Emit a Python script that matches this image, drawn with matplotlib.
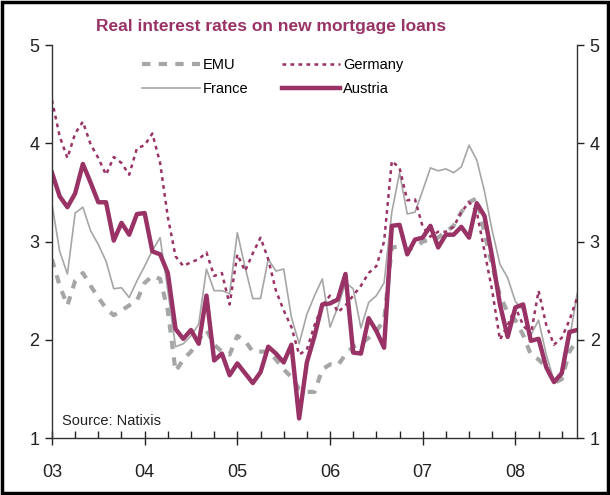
import numpy as np
import matplotlib
matplotlib.use("Agg")
import matplotlib.pyplot as plt
from matplotlib.patches import Rectangle
from matplotlib.ticker import MultipleLocator, FixedLocator

plt.rcParams['font.family'] = ['Liberation Sans', 'DejaVu Sans']

# monthly real mortgage rates, Jan 2003 - Sep 2008 (%)
years = ['03', '04', '05', '06', '07', '08']

austria = [3.70, 3.46, 3.35, 3.49, 3.79, 3.60, 3.40, 3.40, 3.01, 3.19,
           3.07, 3.28, 3.29, 2.90, 2.87, 2.68, 2.11, 2.01, 2.10, 1.96,
           2.45, 1.79, 1.86, 1.64, 1.76, 1.66, 1.56, 1.67, 1.93, 1.86,
           1.77, 1.95, 1.20, 1.77, 2.04, 2.36, 2.37, 2.41, 2.67, 1.87,
           1.86, 2.22, 2.09, 1.92, 3.16, 3.17, 2.87, 3.02, 3.04, 3.16,
           2.94, 3.07, 3.07, 3.15, 3.04, 3.39, 3.26, 2.84, 2.36, 2.03,
           2.33, 2.36, 1.99, 2.01, 1.72, 1.57, 1.66, 2.08, 2.10]

germany = [4.44, 4.07, 3.85, 4.10, 4.22, 3.99, 3.85, 3.68, 3.86, 3.80,
           3.68, 3.95, 3.98, 4.10, 3.80, 3.25, 2.85, 2.75, 2.79, 2.82,
           2.89, 2.65, 2.68, 2.36, 2.87, 2.70, 2.88, 3.04, 2.82, 2.50,
           2.30, 2.13, 1.85, 1.90, 2.15, 2.35, 2.45, 2.28, 2.35, 2.45,
           2.55, 2.68, 2.75, 3.00, 3.82, 3.75, 3.42, 3.43, 3.15, 3.05,
           3.10, 3.10, 3.15, 3.30, 3.40, 3.30, 2.90, 2.50, 2.00, 2.15,
           2.33, 2.15, 2.05, 2.50, 2.15, 1.95, 2.02, 2.20, 2.43]

france = [3.38, 2.90, 2.67, 3.29, 3.35, 3.11, 2.97, 2.80, 2.52, 2.53,
          2.43, 2.60, 2.75, 2.91, 3.04, 2.50, 1.93, 1.96, 2.04, 2.16,
          2.72, 2.50, 2.50, 2.47, 3.09, 2.74, 2.42, 2.42, 2.82, 2.70,
          2.72, 2.23, 1.96, 2.26, 2.45, 2.62, 2.13, 2.33, 2.58, 2.52,
          2.12, 2.38, 2.45, 2.58, 3.30, 3.70, 3.28, 3.30, 3.52, 3.75,
          3.72, 3.74, 3.70, 3.76, 3.98, 3.83, 3.51, 3.11, 2.77, 2.63,
          2.39, 2.30, 2.05, 2.20, 1.85, 1.58, 1.62, 2.00, 2.47]

emu = [2.82, 2.55, 2.35, 2.60, 2.68, 2.55, 2.43, 2.32, 2.25, 2.30,
       2.35, 2.40, 2.58, 2.65, 2.62, 2.30, 1.68, 1.80, 1.88, 2.00,
       2.10, 1.95, 1.88, 1.85, 2.04, 1.99, 1.88, 1.88, 1.88, 1.80,
       1.70, 1.62, 1.50, 1.47, 1.47, 1.70, 1.75, 1.74, 1.85, 1.93,
       1.96, 2.02, 2.09, 2.20, 2.94, 2.95, 2.92, 2.94, 3.00, 3.02,
       3.04, 3.10, 3.16, 3.30, 3.40, 3.44, 3.09, 2.75, 2.45, 2.28,
       2.20, 2.05, 1.85, 1.80, 1.72, 1.56, 1.60, 1.88, 2.00]

maroon = '#993366'
grey = '#a6a6a6'
x = np.arange(len(austria))

fig = plt.figure(figsize=(6.1, 4.95), dpi=100)
ax = fig.add_axes([0.0852, 0.115, 0.861, 0.794])

ax.plot(x, emu, color=grey, lw=3.0, dashes=(2, 2), label='EMU')
ax.plot(x, france, color=grey, lw=1.2, label='France')
ax.plot(x, germany, color=maroon, lw=1.8, dashes=(1.5, 1.7), label='Germany')
ax.plot(x, austria, color=maroon, lw=3.2, label='Austria')

ax.set_xlim(0, len(austria) - 1)
ax.set_ylim(1, 5)
ax.xaxis.set_major_locator(FixedLocator(np.arange(len(years)) * 12))
ax.set_xticklabels(years)
ax.xaxis.set_minor_locator(MultipleLocator(3))
ax.set_yticks([1, 2, 3, 4, 5])

ax.tick_params(axis='x', which='major', direction='inout', length=10,
               width=1, pad=14, labelsize=13, colors='#222222')
ax.tick_params(axis='x', which='minor', direction='in', length=5, width=1,
               colors='#222222')
ax.tick_params(axis='y', direction='out', length=5, width=1, pad=4,
               labelsize=13, left=True, right=True,
               labelleft=True, labelright=True, colors='#222222')

ax.spines['top'].set_visible(False)
for s in ['left', 'right', 'bottom']:
    ax.spines[s].set_color('#333333')
    ax.spines[s].set_linewidth(1.0)

# two legend columns: EMU / France on the left, Germany / Austria on the right
handles, labels = ax.get_legend_handles_labels()
leg = ax.legend(handles, labels, ncol=2, loc='upper center',
                bbox_to_anchor=(0.42, 1.0), frameon=False, fontsize=10.5,
                handlelength=4.0, handletextpad=0.2, columnspacing=2.3,
                labelspacing=0.65)

ax.text(0.02, 0.032, 'Source: Natixis', transform=ax.transAxes,
        fontsize=10.5, color='#222222')

fig.text(0.445, 0.947, 'Real interest rates on new mortgage loans',
         ha='center', va='center', fontsize=12.5, color=maroon,
         fontweight='bold')

# outer frame around the whole chart
fig.patches.append(Rectangle((0.004, 0.004), 0.992, 0.992,
                             transform=fig.transFigure, fill=False,
                             edgecolor='black', linewidth=2.5))

fig.savefig('out.png', dpi=100)
